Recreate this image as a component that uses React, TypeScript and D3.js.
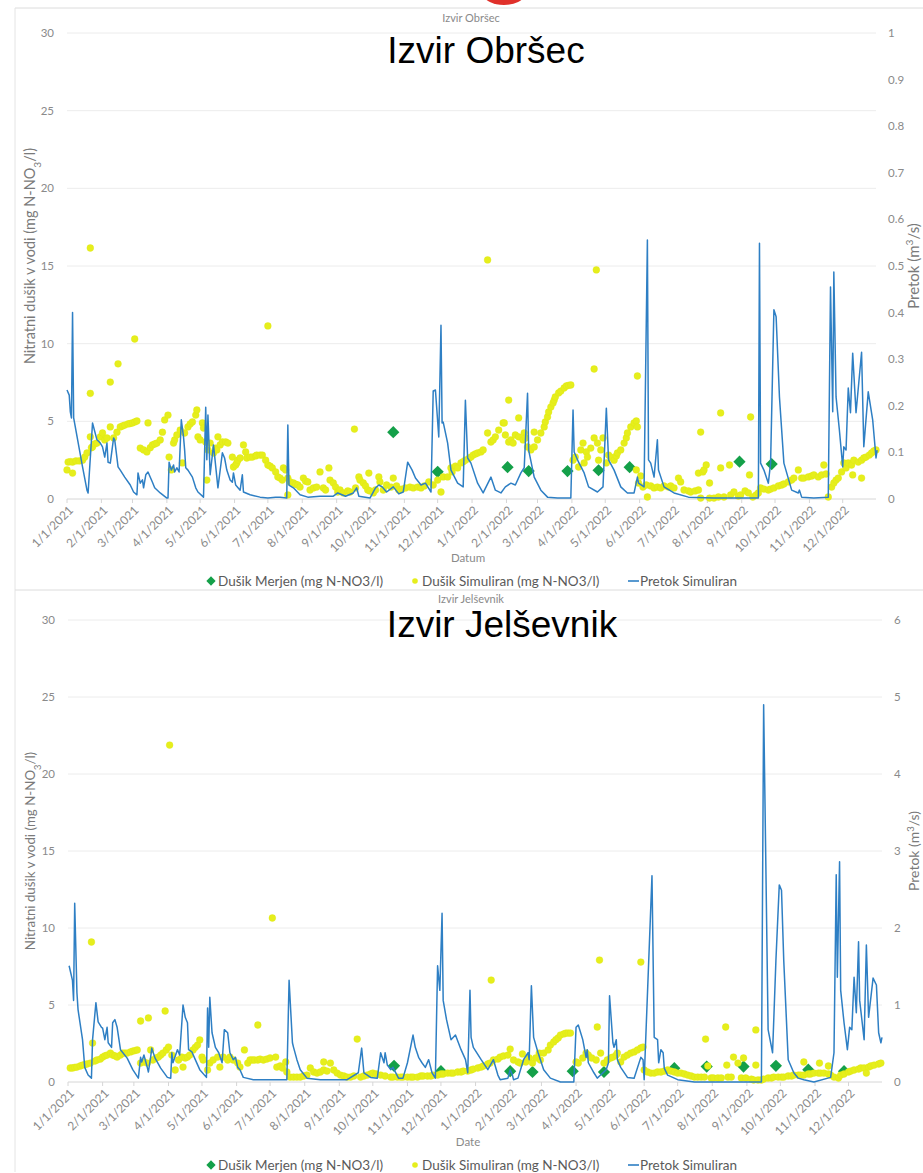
import React from "react";
import * as d3 from "d3";

// ---------- DATA ----------
// x tick labels (month starts)
const xTickLabels = [
  "1/1/2021","2/1/2021","3/1/2021","4/1/2021","5/1/2021","6/1/2021","7/1/2021","8/1/2021","9/1/2021","10/1/2021","11/1/2021","12/1/2021",
  "1/1/2022","2/1/2022","3/1/2022","4/1/2022","5/1/2022","6/1/2022","7/1/2022","8/1/2022","9/1/2022","10/1/2022","11/1/2022","12/1/2022",
];
const leftTicks = [0, 5, 10, 15, 20, 25, 30];
const rightTicksObrsec = [0, 0.1, 0.2, 0.3, 0.4, 0.5, 0.6, 0.7, 0.8, 0.9, 1];
const rightTicksJelsevnik = [0, 1, 2, 3, 4, 5, 6];

// [day since 1/1/2021, value]
const obrsecFlow: [number, number][] = [
  [0,0.234],[2,0.223],[3,0.187],[4,0.174],[5,0.40],[6,0.174],[8,0.148],[14,0.069],[18,0.019],[19,0.013],[23,0.163],[27,0.127],[30,0.12],[32,0.112],[34,0.09],[36,0.12],[37,0.079],[39,0.077],[42,0.131],[43,0.127],[46,0.069],[48,0.062],[52,0.047],[57,0.03],[60,0.015],[63,0.009],[64,0.056],[66,0.034],[68,0.041],[69,0.024],[71,0.052],[73,0.058],[77,0.036],[79,0.024],[84,0.013],[90,0.002],[91,0.002],[92,0.079],[94,0.062],[96,0.073],[97,0.058],[99,0.067],[101,0.058],[103,0.17],[105,0.133],[106,0.105],[107,0.067],[109,0.062],[113,0.047],[116,0.024],[118,0.015],[123,0.004],[125,0.197],[126,0.084],[127,0.18],[129,0.052],[132,0.116],[136,0.024],[140,0.099],[142,0.088],[144,0.062],[147,0.041],[149,0.036],[150,0.056],[152,0.03],[156,0.019],[158,0.052],[159,0.015],[165,0.009],[174,0.004],[181,0.002],[188,0.004],[192,0.004],[198,0.002],[199,0.159],[200,0.03],[204,0.024],[210,0.009],[217,0.004],[228,0.006],[240,0.006],[244,0.013],[251,0.006],[258,0.013],[261,0.024],[263,0.006],[273,0.002],[278,0.024],[281,0.03],[284,0.026],[288,0.015],[294,0.026],[299,0.011],[303,0.015],[307,0.079],[311,0.062],[314,0.045],[319,0.03],[323,0.034],[328,0.015],[330,0.232],[332,0.234],[335,0.133],[337,0.373],[338,0.163],[339,0.165],[343,0.12],[346,0.062],[352,0.034],[357,0.026],[359,0.212],[361,0.088],[364,0.077],[370,0.034],[375,0.013],[382,0.047],[386,0.019],[391,0.013],[395,0.026],[400,0.034],[404,0.03],[409,0.056],[412,0.067],[415,0.227],[416,0.105],[421,0.047],[427,0.019],[433,0.004],[442,0.002],[454,0.002],[456,0.191],[457,0.101],[461,0.079],[466,0.056],[470,0.026],[478,0.015],[483,0.026],[486,0.195],[488,0.084],[493,0.062],[499,0.026],[505,0.013],[511,0.013],[514,0.047],[515,0.034],[520,0.026],[523,0.556],[524,0.084],[526,0.077],[529,0.047],[532,0.127],[533,0.062],[538,0.026],[547,0.013],[560,0.004],[583,0.002],[623,0.002],[624,0.549],[625,0.077],[628,0.062],[632,0.034],[634,0.077],[637,0.406],[639,0.391],[642,0.219],[646,0.077],[653,0.019],[659,0.013],[660,0.019],[662,0.004],[673,0.002],[686,0.004],[688,0.455],[690,0.187],[691,0.487],[693,0.219],[696,0.148],[699,0.069],[700,0.112],[702,0.105],[704,0.238],[706,0.185],[708,0.313],[711,0.185],[716,0.315],[718,0.112],[722,0.23],[726,0.17],[729,0.088],[730,0.105],
];

const obrsecSim: [number, number][] = [
  [0,1.87],[1,2.38],[3,2.4],[5,2.38],[5,1.67],[8,2.45],[11,2.45],[14,2.5],[16,2.7],[18,2.96],[21,16.16],[21,6.8],[21,4.0],[22,3.3],[23,3.35],[25,3.55],[27,3.6],[30,4.0],[32,4.25],[34,3.8],[36,3.93],[39,4.64],[42,3.93],[45,4.3],[48,4.64],[50,4.7],[52,4.76],[55,4.83],[57,4.86],[59,4.9],[61,4.96],[63,5.02],[39,7.53],[46,8.7],[61,10.3],
  [66,3.28],[69,3.16],[72,3.03],[73,4.9],[75,3.3],[77,3.48],[79,3.54],[81,3.6],[84,3.8],[86,4.3],[88,5.09],[91,5.4],[92,2.7],[94,1.87],[96,3.6],[97,3.8],[99,4.12],[102,4.44],[104,2.32],[106,4.25],[109,4.64],[111,4.83],[113,4.96],[116,5.4],[117,5.73],[118,4.0],[120,3.8],[122,4.9],[123,4.57],[125,3.67],[126,1.22],[127,3.16],[129,3.6],[132,2.96],[134,3.28],[135,3.16],[136,4.0],[138,3.48],[140,3.67],[143,3.67],[145,3.6],[149,2.7],[150,2.06],[152,2.19],[153,2.32],[154,2.5],[156,2.64],[159,3.48],[161,3.03],[162,2.64],[165,2.7],[167,2.7],[170,2.77],[171,2.83],[174,2.83],[176,2.83],[179,2.5],[181,2.19],[181,11.14],[183,2.12],[185,2.0],[188,1.74],[190,1.42],[192,1.35],[194,1.22],[195,2.0],[197,1.87],[199,0.26],[199,1.35],[201,1.1],[204,1.03],[206,0.95],[208,0.9],[210,0.77],[213,1.35],[215,1.15],[217,1.1],[219,0.58],[222,0.71],[225,0.77],[228,1.74],[231,0.71],[233,0.58],[236,2.0],[237,1.22],[240,1.03],[242,0.77],[244,0.45],[246,0.58],[249,0.39],[253,0.52],[255,0.45],[259,4.5],[260,0.71],[263,1.42],[264,1.22],[267,1.03],[269,0.84],[271,0.58],[272,1.67],[273,0.52],[276,0.39],[278,0.58],[281,1.42],[282,1.1],[285,0.58],[288,0.9],[292,0.77],[294,1.35],[297,0.84],[299,0.58],[302,0.64],[305,0.71],[309,0.77],[312,0.71],[316,0.77],[319,0.71],[322,0.84],[326,1.1],[330,0.9],[334,1.22],[337,0.45],[339,1.42],[343,1.42],[346,2.0],[347,1.74],[350,2.12],[352,2.0],[355,2.32],[357,2.4],[359,2.5],[362,2.6],[364,2.7],[366,2.83],[368,2.9],[370,2.96],[373,3.03],[375,3.16],[379,15.39],[379,4.25],[382,3.67],[384,3.8],[386,4.0],[389,4.44],[393,4.9],[394,4.9],[395,4.12],[398,6.37],[398,3.67],[400,3.8],[402,3.6],[404,4.12],[407,5.22],[407,4.0],[411,3.8],[412,4.25],[413,3.93],[415,3.35],[418,3.16],[421,3.35],[421,4.31],[424,3.8],[427,4.25],[430,4.64],[431,4.96],[433,5.28],[434,5.6],[436,5.92],[438,6.18],[439,6.37],[440,6.57],[443,6.83],[445,6.95],[448,7.15],[450,7.28],[452,7.32],[454,7.34],
  [456,2.5],[458,2.7],[461,2.06],[463,3.16],[465,3.6],[466,2.32],[468,3.03],[469,2.7],[472,3.28],[475,8.37],[475,3.93],[477,14.75],[478,3.6],[479,2.5],[481,3.16],[483,3.93],[486,2.32],[488,2.83],[490,2.7],[493,2.5],[495,2.77],[496,2.96],[499,3.16],[502,3.6],[504,3.93],[505,4.25],[508,4.64],[511,4.9],[513,5.02],[514,4.64],[513,1.87],[514,7.92],[515,1.03],[517,1.48],[519,0.77],[522,0.9],[523,0.13],[526,0.84],[529,0.71],[532,0.77],[535,0.71],[538,0.84],[542,0.77],[544,0.84],[547,0.71],[551,1.35],[553,1.1],[556,0.58],[560,0.52],[562,0.45],[566,0.52],[569,0.58],[569,1.67],[571,0.06],[571,4.31],[573,1.74],[574,1.87],[576,2.19],[579,1.03],[579,0.06],[583,0.06],[587,0.13],[589,2.0],[589,5.54],[592,0.13],[597,2.19],[598,0.26],[601,0.45],[605,0.19],[607,0.26],[611,0.52],[614,0.39],[615,1.55],[616,5.28],[618,0.13],[621,0.26],[623,0.39],[625,0.71],[628,0.64],[632,0.58],[634,0.64],[637,0.71],[641,0.84],[644,0.9],[646,0.97],[650,1.1],[653,1.22],[655,1.35],[659,1.87],[662,1.35],[664,1.35],[668,1.42],[671,1.48],[673,1.55],[677,1.42],[680,1.55],[682,2.19],[684,1.61],[686,0.13],[689,0.77],[691,1.03],[693,1.22],[695,1.35],[698,1.74],[700,2.32],[702,2.0],[704,2.32],[707,2.19],[708,1.55],[709,2.5],[713,2.38],[716,2.5],[716,1.35],[718,2.64],[720,2.7],[723,2.83],[725,2.96],[727,3.09],[729,3.16],
];

const obrsecMeasured: [number, number][] = [
  [294,4.3],[334,1.75],[397,2.05],[416,1.8],[451,1.8],[479,1.85],[507,2.05],[606,2.4],[635,2.25],
];

const jelsevnikFlow: [number, number][] = [
  [1,1.51],[4,1.32],[5,1.06],[6,2.32],[8,1.16],[9,0.94],[13,0.55],[15,0.19],[18,0.09],[21,0.05],[22,0.55],[25,1.03],[27,0.78],[30,0.71],[31,0.7],[33,0.55],[35,0.71],[36,0.51],[39,0.45],[40,0.77],[42,0.81],[44,0.71],[47,0.42],[53,0.31],[58,0.16],[63,0.05],[65,0.32],[66,0.26],[68,0.35],[71,0.19],[72,0.13],[74,0.32],[75,0.44],[78,0.31],[83,0.18],[89,0.06],[92,0.05],[93,0.38],[94,0.25],[98,0.42],[100,0.35],[103,1.0],[105,0.84],[107,0.77],[108,0.42],[111,0.39],[114,0.29],[118,0.16],[124,0.06],[125,0.96],[126,0.45],[127,1.1],[129,0.64],[132,0.45],[135,0.38],[138,0.25],[140,0.68],[143,0.64],[145,0.38],[148,0.29],[150,0.32],[152,0.19],[154,0.16],[157,0.06],[166,0.03],[178,0.03],[196,0.03],[198,1.32],[201,0.51],[202,0.45],[205,0.29],[208,0.16],[214,0.05],[226,0.03],[250,0.03],[260,0.12],[263,0.44],[265,0.12],[271,0.06],[277,0.05],[280,0.38],[283,0.25],[284,0.38],[286,0.22],[289,0.16],[291,0.19],[296,0.05],[300,0.05],[304,0.25],[309,0.61],[311,0.45],[314,0.32],[317,0.25],[320,0.19],[323,0.29],[326,0.12],[329,0.05],[331,1.51],[333,1.19],[335,2.19],[336,1.06],[339,0.81],[343,0.55],[347,0.61],[352,0.42],[356,0.29],[358,0.12],[360,1.19],[361,0.58],[363,0.45],[370,0.29],[376,0.16],[381,0.29],[385,0.09],[387,0.03],[394,0.05],[396,0.16],[398,0.09],[399,0.03],[403,0.05],[408,0.29],[412,0.38],[413,0.29],[415,1.25],[417,0.58],[421,0.38],[426,0.16],[432,0.05],[441,0],[453,0],[455,0.71],[457,0.74],[461,0.55],[464,0.32],[465,0.42],[466,0.25],[471,0.12],[474,0.05],[477,0.09],[482,0.16],[484,0.25],[485,1.12],[488,0.51],[489,0.45],[491,0.55],[492,0.29],[495,0.19],[501,0.06],[507,0.05],[513,0.32],[515,0.29],[516,0.03],[523,2.68],[525,0.58],[528,0.55],[529,0.25],[531,0.42],[533,0.38],[534,0.18],[537,0.09],[546,0.03],[561,0],[621,0],[623,4.9],[627,0.68],[631,0.38],[634,1.58],[637,2.56],[639,2.49],[641,1.58],[645,0.29],[650,0.12],[654,0.05],[659,0.03],[668,0],[683,0.06],[686,0.38],[688,2.69],[689,1.36],[691,2.86],[692,1.19],[695,0.77],[698,0.42],[700,0.71],[702,0.68],[704,1.36],[706,0.9],[708,1.82],[709,1.06],[713,0.55],[715,1.78],[717,0.84],[721,1.35],[724,1.26],[726,0.64],[728,0.51],[729,0.58],
];

const jelsevnikSim: [number, number][] = [
  [2,0.91],[4,0.91],[6,0.95],[8,0.97],[11,1.04],[13,1.1],[15,1.13],[17,1.17],[20,1.23],[21,9.09],[22,2.53],[24,1.36],[26,1.43],[29,1.49],[31,1.62],[33,1.7],[35,1.75],[38,1.88],[40,1.75],[42,1.7],[44,1.62],[47,1.75],[49,1.88],[51,1.88],[53,1.88],[56,1.95],[58,2.01],[60,2.04],[62,2.08],[65,1.23],[65,3.96],[68,1.3],[71,1.23],[72,4.16],[74,2.08],[76,1.43],[79,1.56],[81,1.62],[83,1.75],[85,1.88],[87,4.61],[88,2.08],[90,2.27],[91,21.88],[93,1.75],[96,0.78],[99,1.43],[102,1.62],[103,0.97],[105,1.56],[107,1.62],[109,1.75],[112,2.08],[114,2.25],[116,2.4],[118,2.73],[120,1.62],[121,1.43],[125,0.78],[127,1.23],[130,1.43],[134,1.62],[136,0.97],[139,1.62],[143,1.43],[145,1.62],[148,1.43],[152,1.23],[154,0.97],[158,2.08],[161,1.23],[163,1.43],[165,1.43],[167,1.43],[170,3.7],[170,1.43],[172,1.49],[175,1.43],[178,1.49],[181,1.56],[183,10.65],[186,1.62],[187,0.97],[190,1.04],[192,0.91],[195,1.3],[196,0.65],[199,0.32],[202,0.32],[205,0.32],[208,0.32],[211,0.39],[214,0.45],[217,0.91],[220,0.65],[223,0.58],[226,0.65],[229,1.3],[229,0.78],[232,0.71],[235,1.23],[238,0.78],[241,0.58],[244,0.45],[247,0.39],[250,0.32],[253,0.32],[256,0.39],[259,2.79],[262,0.32],[265,0.39],[268,0.45],[271,0.52],[273,0.58],[276,0.52],[280,0.45],[284,0.39],[289,0.32],[291,0.32],[295,0.32],[298,0.32],[300,0.32],[304,0.32],[307,0.32],[309,0.32],[313,0.32],[316,0.39],[318,0.39],[322,0.39],[325,0.39],[327,0.45],[331,0.45],[334,0.52],[336,0.52],[340,0.58],[343,0.58],[345,0.58],[349,0.65],[352,0.65],[354,0.71],[358,0.71],[361,0.78],[363,0.84],[367,0.91],[370,0.97],[372,1.04],[376,1.17],[378,1.23],[379,6.62],[381,1.43],[385,1.49],[387,1.62],[390,1.69],[394,1.75],[396,2.14],[399,1.43],[403,1.3],[405,1.23],[407,1.82],[410,1.3],[413,1.56],[416,1.23],[419,1.56],[422,1.88],[423,1.43],[426,1.88],[430,2.08],[432,2.4],[435,2.6],[437,2.75],[439,2.86],[441,3.05],[444,3.12],[446,3.18],[448,3.18],[450,3.18],[455,1.3],[457,1.23],[461,1.56],[464,1.88],[466,1.75],[469,1.56],[473,1.43],[474,3.57],[476,7.92],[477,1.88],[480,1.23],[483,1.43],[486,1.56],[488,1.62],[491,1.75],[492,1.88],[495,1.3],[498,1.62],[501,1.75],[504,1.88],[507,1.95],[510,2.08],[513,2.21],[513,7.79],[515,2.27],[516,0.78],[519,0.65],[522,0.58],[525,0.58],[528,0.65],[531,0.65],[534,0.71],[537,0.78],[540,0.71],[543,0.65],[546,0.58],[549,0.58],[552,0.52],[555,0.45],[558,0.39],[561,0.32],[564,0.32],[567,0.32],[570,0.32],[571,2.79],[573,1.04],[576,0.26],[578,0.26],[582,0.26],[585,0.26],[589,3.57],[590,1.1],[591,0.32],[594,0.32],[596,1.62],[600,1.23],[603,0.26],[605,1.56],[607,0.26],[612,0.19],[614,0.13],[616,3.38],[616,1.1],[618,0.13],[621,0.13],[623,0.19],[627,0.26],[630,0.26],[632,0.32],[636,0.32],[639,0.32],[641,0.32],[645,0.39],[648,0.39],[650,0.45],[654,0.45],[656,0.45],[659,1.3],[659,0.45],[663,0.52],[665,0.52],[668,0.58],[672,0.58],[673,1.23],[674,0.58],[677,0.58],[681,1.04],[681,0.52],[683,0.45],[686,0.32],[690,0.26],[692,0.45],[695,0.52],[699,0.65],[701,0.71],[704,0.78],[708,0.84],[710,0.91],[713,0.91],[715,0.58],[717,0.97],[719,1.04],[722,1.1],[726,1.17],[728,1.23],
];

const jelsevnikMeasured: [number, number][] = [
  [292,1.05],[334,0.7],[396,0.7],[416,0.65],[452,0.7],[480,0.65],[543,0.9],[572,1.0],[605,1.0],[634,1.05],[663,0.8],[695,0.7],
];

const legendLabels = ["Dušik Merjen (mg N-NO3/l)", "Dušik Simuliran (mg N-NO3/l)", "Pretok Simuliran"];

// ---------- STYLE ----------
const C_FLOW = "#2e7fc4";
const C_SIM = "#e6ee1c";
const C_MEAS = "#14a049";
const C_GRID = "#ececec";
const C_TICK = "#8a8a8a";
const FONT = "Lato, 'Open Sans', sans-serif";

const START = new Date(Date.UTC(2021, 0, 1));
const END = new Date(Date.UTC(2022, 11, 31));
const parseTick = d3.utcParse("%m/%d/%Y");
const dayDate = (d: number) => d3.utcDay.offset(START, d);

type PanelCfg = {
  top: number;
  x0: number; x1: number; y0: number; yT: number;
  rMax: number; rTicks: number[];
  smallTitle: string; bigTitle: string; bigX: number; bigY: number; smallY: number;
  xTitle: string; xTitleY: number; legendY: number;
  flow: [number, number][]; sim: [number, number][]; meas: [number, number][];
  leftTitleSize: number; leftTitleY: number; rightTitleY: number; rightTitleSize: number;
};

function Panel({ c }: { c: PanelCfg }) {
  const x = d3.scaleUtc().domain([START, END]).range([c.x0, c.x1]);
  const yL = d3.scaleLinear().domain([0, 30]).range([c.y0, c.yT]);
  const yR = d3.scaleLinear().domain([0, c.rMax]).range([c.y0, c.yT]);
  const line = d3.line<[number, number]>().x((p) => x(dayDate(p[0]))).y((p) => yR(p[1]));
  const tickDates = xTickLabels.map((s) => parseTick(s) as Date);
  const diamond = d3.symbol().type(d3.symbolDiamond2).size(95)();
  const legDiamond = d3.symbol().type(d3.symbolDiamond2).size(55)();
  return (
    <g>
      {/* panel frame */}
      <line x1={15} x2={923} y1={c.top} y2={c.top} stroke="#dcdcdc" />
      <line x1={15} x2={15} y1={c.top} y2={c.top + 582} stroke="#e4e4e4" />
      {/* small title */}
      <text x={471} y={c.smallY} textAnchor="middle" fontFamily={FONT} fontSize={11} fill="#8a8a8a">{c.smallTitle}</text>
      {/* grid */}
      {leftTicks.map((t) => (
        <line key={t} x1={c.x0} x2={c.x1} y1={yL(t)} y2={yL(t)} stroke={t === 0 ? "#d6d6d6" : C_GRID} strokeWidth={1} />
      ))}
      {tickDates.map((d, i) => (
        <line key={i} x1={x(d)} x2={x(d)} y1={c.y0} y2={c.y0 + 4} stroke="#d6d6d6" />
      ))}
      {/* left ticks */}
      {leftTicks.map((t) => (
        <text key={t} x={c.x0 - 13} y={yL(t)} dy="0.35em" textAnchor="end" fontFamily={FONT} fontSize={11.5} fill={C_TICK}>{t}</text>
      ))}
      {/* right ticks */}
      {c.rTicks.map((t) => (
        <text key={t} x={c.x1 + 12} y={yR(t)} dy="0.35em" textAnchor="start" fontFamily={FONT} fontSize={11.5} fill={C_TICK}>{String(t)}</text>
      ))}
      {/* x tick labels */}
      {tickDates.map((d, i) => (
        <text key={i} transform={`translate(${x(d) + 4},${c.y0 + 9}) rotate(-45)`} textAnchor="end" dy="0.35em"
          fontFamily={FONT} fontSize={12} fill={C_TICK}>{xTickLabels[i]}</text>
      ))}
      {/* axis titles */}
      <text transform={`translate(35,${c.leftTitleY}) rotate(-90)`} textAnchor="middle" fontFamily={FONT} fontSize={c.leftTitleSize} fill="#7a7a7a">
        Nitratni dušik v vodi (mg N-NO<tspan baselineShift="sub" fontSize={c.leftTitleSize * 0.7}>3</tspan>/l)
      </text>
      <text transform={`translate(919,${c.rightTitleY}) rotate(-90)`} textAnchor="middle" fontFamily={FONT} fontSize={c.rightTitleSize} fill="#7a7a7a">
        Pretok (m<tspan baselineShift="super" fontSize={c.rightTitleSize * 0.68}>3</tspan>/s)
      </text>
      <text x={468} y={c.xTitleY} textAnchor="middle" fontFamily={FONT} fontSize={11.5} fill="#8a8a8a">{c.xTitle}</text>
      {/* measured */}
      {c.meas.map((p, i) => (
        <path key={i} d={diamond || ""} transform={`translate(${x(dayDate(p[0]))},${yL(p[1])})`} fill={C_MEAS} />
      ))}
      {/* simulated */}
      {c.sim.map((p, i) => (
        <circle key={i} cx={x(dayDate(p[0]))} cy={yL(p[1])} r={3.4} fill={C_SIM} stroke="#dfe80f" strokeWidth={0.4} />
      ))}
      {/* flow */}
      <path d={line(c.flow) || ""} fill="none" stroke={C_FLOW} strokeWidth={1.5} strokeLinejoin="round" />
      {/* legend */}
      <g fontFamily={FONT} fontSize={13.5} fill="#5a5a5a">
        <path d={legDiamond || ""} transform={`translate(211,${c.legendY})`} fill={C_MEAS} />
        <text x={218} y={c.legendY} dy="0.35em">{legendLabels[0]}</text>
        <circle cx={415} cy={c.legendY} r={2.8} fill={C_SIM} />
        <text x={422} y={c.legendY} dy="0.35em">{legendLabels[1]}</text>
        <line x1={628} x2={639} y1={c.legendY} y2={c.legendY} stroke={C_FLOW} strokeWidth={1.6} />
        <text x={640} y={c.legendY} dy="0.35em">{legendLabels[2]}</text>
      </g>
      {/* big overlay title */}
      <text x={c.bigX} y={c.bigY} textAnchor="middle" fontFamily="'Liberation Sans', Arial, sans-serif" fontSize={37} fill="#000">{c.bigTitle}</text>
    </g>
  );
}

const topCfg: PanelCfg = {
  top: 8, x0: 67, x1: 876, y0: 499, yT: 33, rMax: 1, rTicks: rightTicksObrsec,
  smallTitle: "Izvir Obršec", bigTitle: "Izvir Obršec", bigX: 486, bigY: 63, smallY: 22,
  xTitle: "Datum", xTitleY: 562, legendY: 581,
  flow: obrsecFlow, sim: obrsecSim, meas: obrsecMeasured,
  leftTitleSize: 14.5, leftTitleY: 256, rightTitleY: 266, rightTitleSize: 15,
};

const bottomCfg: PanelCfg = {
  top: 590, x0: 68, x1: 882, y0: 1082, yT: 620, rMax: 6, rTicks: rightTicksJelsevnik,
  smallTitle: "Izvir Jelševnik", bigTitle: "Izvir Jelševnik", bigX: 502, bigY: 637, smallY: 603,
  xTitle: "Date", xTitleY: 1146, legendY: 1165,
  flow: jelsevnikFlow, sim: jelsevnikSim, meas: jelsevnikMeasured,
  leftTitleSize: 13.3, leftTitleY: 851, rightTitleY: 851, rightTitleSize: 14,
};

export default function App() {
  return (
    <svg width={923} height={1173} style={{ position: "absolute", left: 0, top: 0, background: "#fff" }}>
      <rect x={0} y={0} width={923} height={1173} fill="#fff" />
      <ellipse cx={504} cy={-5} rx={20} ry={10} fill="#e0302a" />
      <Panel c={topCfg} />
      <Panel c={bottomCfg} />
    </svg>
  );
}
